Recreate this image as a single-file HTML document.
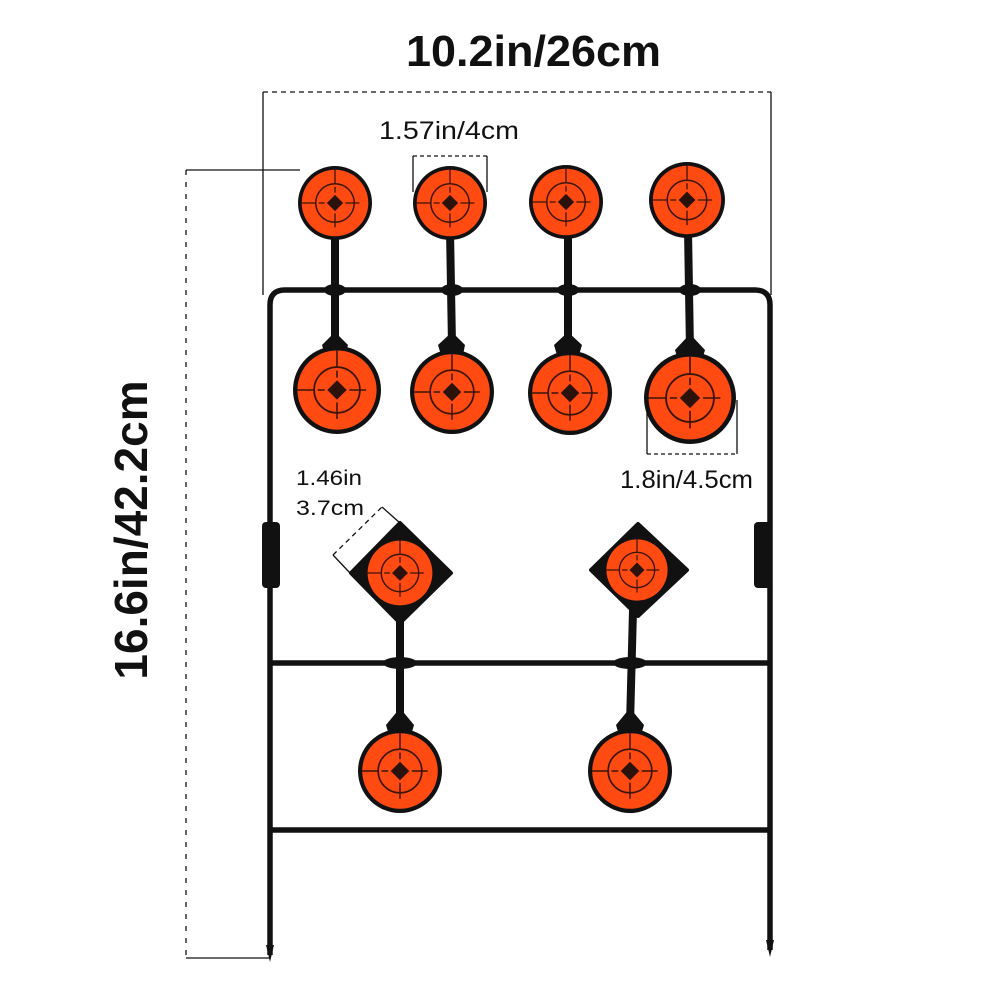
<!DOCTYPE html>
<html><head><meta charset="utf-8"><style>html,body{margin:0;padding:0;background:#fff}svg{display:block}</style></head>
<body>
<svg width="1000" height="1000" viewBox="0 0 1000 1000" xmlns="http://www.w3.org/2000/svg" font-family="Liberation Sans, sans-serif">
<defs>
<g id="t">
  <circle r="1" fill="#111"/>
  <circle r="0.9" fill="#ff4a12"/>
  <circle r="0.52" fill="none" stroke="#3a1508" stroke-width="0.04"/>
  <line x1="-0.9" y1="0" x2="0.9" y2="0" stroke="#3a1508" stroke-width="0.035" stroke-dasharray="0.38 0.08 0.16 0.08 0.16 0.08 0.16 0.08 0.38"/>
  <line x1="0" y1="-0.9" x2="0" y2="0.9" stroke="#3a1508" stroke-width="0.035" stroke-dasharray="0.38 0.08 0.16 0.08 0.16 0.08 0.16 0.08 0.38"/>
  <path d="M0,-0.22 L0.22,0 L0,0.22 L-0.22,0Z" fill="#2b120a"/>
</g>
</defs>

<g stroke="#111" fill="none" stroke-width="5.5">
  <path d="M270,955 L270,305 Q270,290 285,290 L755,290 Q770,290 770,305 L770,950"/>
  <line x1="270" y1="663" x2="770" y2="663"/>
  <line x1="270" y1="830" x2="770" y2="830"/>
</g>
<path d="M266,945 L270,962 L274,945Z" fill="#111"/>
<path d="M766,940 L770,957 L774,940Z" fill="#111"/>
<rect x="262" y="522" width="18" height="66" rx="4" fill="#111"/>
<rect x="754" y="522" width="18" height="66" rx="4" fill="#111"/>

<g stroke="#111" stroke-width="8" stroke-linecap="round">
  <line x1="335" y1="230" x2="335" y2="345"/>
  <line x1="450" y1="230" x2="452" y2="345"/>
  <line x1="568" y1="230" x2="568" y2="345"/>
  <line x1="688" y1="230" x2="690" y2="350"/>
  <line x1="400" y1="610" x2="400" y2="725"/>
  <line x1="633" y1="610" x2="630" y2="725"/>
</g>
<g fill="#111">
  <ellipse cx="335" cy="290" rx="11" ry="6"/><ellipse cx="452" cy="290" rx="11" ry="6"/>
  <ellipse cx="568" cy="290" rx="11" ry="6"/><ellipse cx="690" cy="290" rx="11" ry="6"/>
  <ellipse cx="400" cy="663" rx="17" ry="6"/><ellipse cx="630" cy="663" rx="17" ry="6"/>
  <path d="M325,355 L345,355 L348,345 L335,332 L322,345Z"/>
  <path d="M441,355 L463,355 L465,345 L452,332 L438,345Z"/>
  <path d="M557,355 L579,355 L582,345 L568,332 L554,345Z"/>
  <path d="M678,360 L702,360 L705,350 L690,334 L675,350Z"/>
  <path d="M389,735 L411,735 L414,725 L400,708 L386,725Z"/>
  <path d="M619,735 L641,735 L644,725 L630,708 L616,725Z"/>
  <path d="M400,523 L451,573 L400,623 L351,573Z" stroke="#111" stroke-width="4" stroke-linejoin="round"/>
  <path d="M638,524 L687,570 L638,616 L591,570Z" stroke="#111" stroke-width="4" stroke-linejoin="round"/>
</g>

<use href="#t" transform="translate(335,203) scale(37)"/>
<use href="#t" transform="translate(450,203) scale(37)"/>
<use href="#t" transform="translate(566,202) scale(37)"/>
<use href="#t" transform="translate(687,200) scale(38)"/>
<use href="#t" transform="translate(337,390) scale(44)"/>
<use href="#t" transform="translate(452,392) scale(42)"/>
<use href="#t" transform="translate(570,393) scale(42)"/>
<use href="#t" transform="translate(690,398) scale(46)"/>
<use href="#t" transform="translate(400,573) scale(36)"/>
<use href="#t" transform="translate(637,570) scale(34)"/>
<use href="#t" transform="translate(400,771) scale(42)"/>
<use href="#t" transform="translate(630,771) scale(42)"/>

<g stroke="#111" stroke-width="1.3" fill="none">
  <path d="M263,92 L771,92" stroke-dasharray="5 4"/>
  <line x1="263" y1="92" x2="263" y2="295"/>
  <line x1="771" y1="92" x2="771" y2="295"/>
  <line x1="186" y1="170" x2="300" y2="170"/>
  <line x1="186" y1="170" x2="186" y2="958" stroke-dasharray="5 7"/>
  <line x1="186" y1="958" x2="270" y2="958"/>
  <path d="M413,156 L487,156" stroke-dasharray="4 3"/>
  <line x1="413" y1="156" x2="413" y2="192"/>
  <line x1="487" y1="156" x2="487" y2="192"/>
  <line x1="647" y1="400" x2="647" y2="454"/>
  <line x1="737" y1="400" x2="737" y2="454"/>
  <path d="M647,454 L737,454" stroke-dasharray="4 3"/>
  <path d="M333,555 L382,507" stroke-dasharray="5 4"/>
  <line x1="333" y1="555" x2="350" y2="573"/>
  <line x1="382" y1="507" x2="400" y2="523"/>
</g>

<text x="406" y="66" font-size="44" font-weight="bold" fill="#111" textLength="255" lengthAdjust="spacingAndGlyphs">10.2in/26cm</text>
<text x="379" y="139" font-size="25" fill="#111" textLength="140" lengthAdjust="spacingAndGlyphs">1.57in/4cm</text>
<text x="296" y="485" font-size="21" fill="#111" textLength="66" lengthAdjust="spacingAndGlyphs">1.46in</text>
<text x="296" y="515" font-size="21" fill="#111" textLength="68" lengthAdjust="spacingAndGlyphs">3.7cm</text>
<text x="620" y="488" font-size="25" fill="#111" textLength="133" lengthAdjust="spacingAndGlyphs">1.8in/4.5cm</text>
<text transform="translate(147,530) rotate(-90)" font-size="46" font-weight="bold" text-anchor="middle" fill="#111">16.6in/42.2cm</text>
</svg>
</body></html>
